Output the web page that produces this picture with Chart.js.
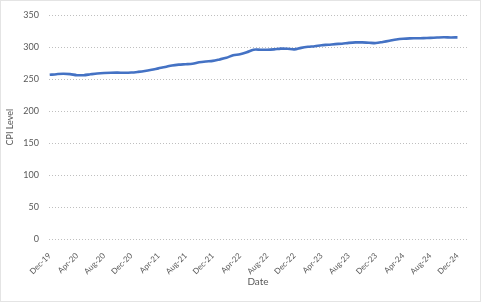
<!DOCTYPE html>
<html><head><meta charset="utf-8">
<script src="https://cdn.jsdelivr.net/npm/chart.js@4.4.0/dist/chart.umd.min.js"></script>
<style>html,body{margin:0;padding:0;background:#fff}#wrap{width:481px;height:302px}</style>
</head><body><div id="wrap"><canvas id="c" width="481" height="302"></canvas></div>
<script>
const months = [
 'Dec-19','Jan-20','Feb-20','Mar-20','Apr-20','May-20','Jun-20','Jul-20','Aug-20','Sep-20','Oct-20','Nov-20','Dec-20',
 'Jan-21','Feb-21','Mar-21','Apr-21','May-21','Jun-21','Jul-21','Aug-21','Sep-21','Oct-21','Nov-21','Dec-21',
 'Jan-22','Feb-22','Mar-22','Apr-22','May-22','Jun-22','Jul-22','Aug-22','Sep-22','Oct-22','Nov-22','Dec-22',
 'Jan-23','Feb-23','Mar-23','Apr-23','May-23','Jun-23','Jul-23','Aug-23','Sep-23','Oct-23','Nov-23','Dec-23',
 'Jan-24','Feb-24','Mar-24','Apr-24','May-24','Jun-24','Jul-24','Aug-24','Sep-24','Oct-24','Nov-24','Dec-24'];
const cpi = [
 257.0,258.0,258.7,258.1,256.4,256.4,257.8,259.1,259.9,260.3,260.4,260.2,260.5,
 261.6,263.0,264.9,267.1,269.2,271.7,273.0,273.6,274.3,276.6,277.9,278.8,
 281.1,283.7,287.5,289.1,292.3,296.3,296.3,296.2,296.8,298.0,297.7,296.8,
 299.2,300.8,301.8,303.4,304.1,305.1,305.7,307.0,307.8,307.7,307.1,306.7,
 308.4,310.3,312.3,313.5,314.1,314.2,314.5,314.8,315.3,315.7,315.5,315.6];
const yTicks = [0,50,100,150,200,250,300,350];
const tickEvery = 4;

const borderPlugin = {
  id:'frame',
  afterDraw(chart){
    const ctx = chart.ctx;
    ctx.save();
    ctx.strokeStyle = '#c8c8c8';
    ctx.lineWidth = 1;
    ctx.setLineDash([1,1]);
    ctx.strokeRect(0.5,0.5,chart.width-1,chart.height-1);
    ctx.restore();
  }
};

const fam = 'Lato, "Open Sans", sans-serif';
new Chart(document.getElementById('c'), {
  type:'line',
  data:{datasets:[{
    data: cpi.map((v,i)=>({x:i,y:v})),
    borderColor:'#4472C4', borderWidth:2.6, pointRadius:0, tension:0.3, fill:false
  }]},
  options:{
    responsive:false, animation:false,
    layout:{padding:{top:15,right:14,left:0,bottom:14}},
    plugins:{legend:{display:false}, tooltip:{enabled:false}},
    scales:{
      x:{type:'linear', min:-0.1, max:61.4,
        afterBuildTicks(s){ s.ticks = months.map((m,i)=>({value:i})).filter(t=>t.value%tickEvery===0); },
        ticks:{callback:(v)=>months[v], autoSkip:false, minRotation:45, maxRotation:45, color:'#595959', font:{family:fam,size:8}, padding:4},
        grid:{display:false}, border:{display:false},
        title:{display:true, text:'Date', color:'#595959', font:{family:fam,size:10}, padding:{top:0,bottom:0}},
        afterFit(s){ s.height = 49; }
      },
      y:{min:0, max:350,
        afterBuildTicks(s){ s.ticks = yTicks.map(v=>({value:v})); },
        ticks:{color:'#595959', font:{family:fam,size:9}, padding:10},
        grid:{color:'#bfbfbf', borderDash:[1,2], drawTicks:false, lineWidth:1},
        border:{display:false, dash:[1,2]},
        title:{display:true, text:'CPI Level', color:'#595959', font:{family:fam,size:9}, padding:{top:5,bottom:0}},
        afterFit(s){ s.width = 49; }
      }
    }
  },
  plugins:[borderPlugin]
});
</script></body></html>
